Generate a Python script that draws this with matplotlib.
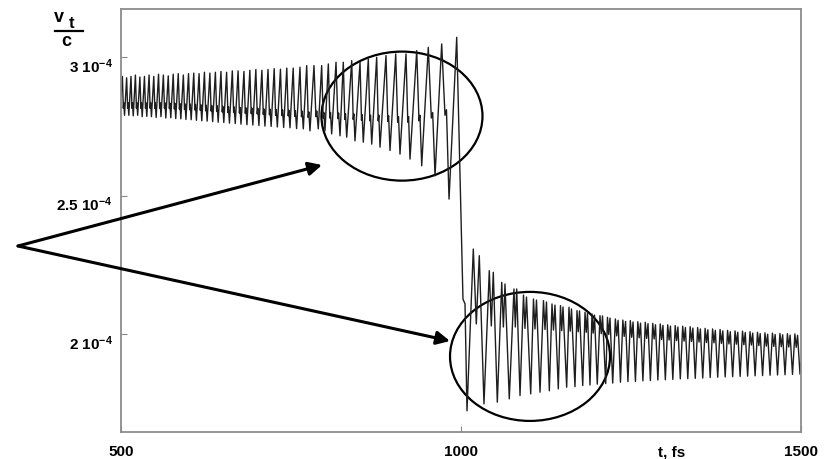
import matplotlib
matplotlib.use("Agg")
import matplotlib.pyplot as plt
from matplotlib.patches import Ellipse
from matplotlib.lines import Line2D
import matplotlib.transforms as mtransforms

plt.rcParams['font.family'] = ['Liberation Sans', 'DejaVu Sans']
plt.rcParams['mathtext.fontset'] = 'custom'
plt.rcParams['mathtext.rm'] = 'Liberation Sans:bold'
plt.rcParams['mathtext.it'] = 'Liberation Sans:bold'
plt.rcParams['mathtext.bf'] = 'Liberation Sans:bold'

# v_t/c in units of 1e-4, time in fs
# before the jump: each cycle = top, knee (dip + small bump), bottom
pre_top_t = [502, 508.3, 514.7, 521.2, 527.8, 534.5, 541.3, 548.2, 555.2, 562.3, 569.5, 576.8,
             584.2, 591.7, 599.3, 607.0, 614.8, 622.7, 630.7, 638.8, 647.0, 655.3, 663.7, 672.2,
             680.8, 689.5, 698.3, 707.2, 716.2, 725.3, 734.5, 743.8, 753.2, 763.2,
             773.1, 783.8, 795.1, 804.9, 816.2, 826.9, 839.3, 851.5, 863.7, 876.0, 889.7,
             904.0, 919.1, 934.9, 951.9, 971.6, 993.7]
pre_top_v = [2.930, 2.925, 2.930, 2.935, 2.928, 2.930, 2.935, 2.930, 2.938, 2.935, 2.932, 2.938,
             2.940, 2.935, 2.940, 2.942, 2.940, 2.945, 2.942, 2.945, 2.948, 2.945, 2.950, 2.950,
             2.948, 2.952, 2.955, 2.952, 2.955, 2.958, 2.956, 2.960, 2.960, 2.963,
             2.969, 2.969, 2.969, 2.975, 2.981, 2.981, 2.987, 2.981, 2.993, 2.999, 3.005, 3.011,
             3.011, 3.023, 3.035, 3.047, 3.071]
pre_bot_t = [505.2, 511.5, 518.0, 524.5, 531.2, 537.9, 544.8, 551.7, 558.8, 565.9, 573.2, 580.5,
             588.0, 595.5, 603.2, 610.9, 618.8, 626.7, 634.8, 642.9, 651.2, 659.5, 668.0, 676.5,
             685.2, 693.9, 702.8, 711.7, 720.8, 729.9, 739.2, 748.5, 758.2,
             768.1, 777.9, 790.1, 800.0, 809.8, 822.1, 831.9, 844.1, 856.3, 868.7, 880.9, 895.6,
             910.3, 925.0, 942.2, 961.8, 982.4]
pre_bot_v = [2.790, 2.790, 2.788, 2.790, 2.785, 2.786, 2.785, 2.782, 2.785, 2.780, 2.781, 2.778,
             2.777, 2.775, 2.774, 2.772, 2.770, 2.769, 2.767, 2.765, 2.764, 2.762, 2.760, 2.758,
             2.756, 2.755, 2.753, 2.751, 2.750, 2.748, 2.746, 2.745, 2.742,
             2.741, 2.734, 2.741, 2.734, 2.723, 2.716, 2.711, 2.698, 2.693, 2.686, 2.675, 2.663,
             2.650, 2.632, 2.608, 2.572, 2.488]
pre_dip_v = [2.815, 2.815, 2.815, 2.815, 2.815, 2.815, 2.815, 2.815, 2.815, 2.815, 2.814, 2.813,
             2.812, 2.811, 2.810, 2.809, 2.808, 2.806, 2.805, 2.804, 2.802, 2.800, 2.800, 2.798,
             2.797, 2.796, 2.795, 2.793, 2.792, 2.790, 2.789, 2.788, 2.786,
             2.785, 2.782, 2.785, 2.780, 2.780, 2.778, 2.775, 2.775, 2.772, 2.770, 2.770, 2.768,
             2.765, 2.765, 2.770, 2.780, 2.790]
pre_bump_v = [2.835, 2.835, 2.835, 2.835, 2.835, 2.835, 2.835, 2.835, 2.835, 2.835, 2.834, 2.833,
              2.832, 2.831, 2.830, 2.829, 2.828, 2.826, 2.825, 2.824, 2.822, 2.820, 2.820, 2.818,
              2.817, 2.816, 2.815, 2.813, 2.812, 2.810, 2.809, 2.808, 2.806,
              2.805, 2.802, 2.805, 2.800, 2.800, 2.798, 2.795, 2.795, 2.792, 2.790, 2.790, 2.788,
              2.785, 2.785, 2.790, 2.800, 2.810]

# the jump near 1000 fs
drop_t = [1002.9, 1005.9, 1008.8]
drop_v = [2.128, 2.110, 1.725]

# after the jump: each cycle = first top, dip, second top, trough
post_p1_t = [1018.1, 1041.6, 1059.9, 1077.9, 1091.9, 1106.6, 1121.3, 1133.8, 1146.3, 1158.8,
             1170.6, 1182.4, 1192.6, 1204.4, 1215.4, 1227, 1238, 1249, 1260, 1271, 1282, 1293,
             1304, 1315, 1326, 1337, 1348, 1359, 1370, 1381, 1392, 1403, 1414, 1425, 1436, 1447,
             1458, 1469, 1480, 1491]
post_p2_t = [1026.9, 1047.5, 1064.7, 1081.9, 1096.3, 1111.0, 1125.7, 1138.2, 1150.0, 1162.5,
             1174.3, 1186.0, 1196.3, 1208.1, 1219.1, 1231, 1242, 1253, 1264, 1275, 1286, 1297,
             1308, 1319, 1330, 1341, 1352, 1363, 1374, 1385, 1396, 1407, 1418, 1429, 1440, 1451,
             1462, 1473, 1484, 1495]
post_tr_t = [1033.8, 1053.4, 1071.0, 1086.8, 1102.5, 1116.2, 1129.9, 1143.1, 1155.4, 1167.6,
             1179.0, 1189.7, 1200.4, 1212.8, 1223.1, 1234.5, 1245.5, 1256.5, 1267.5, 1278.5,
             1289.5, 1300.5, 1311.5, 1322.5, 1333.5, 1344.5, 1355.5, 1366.5, 1377.5, 1388.5,
             1399.5, 1410.5, 1421.5, 1432.5, 1443.5, 1454.5, 1465.5, 1476.5, 1487.5, 1498.5]
post_p1_v = [2.308, 2.230, 2.188, 2.164, 2.142, 2.128, 2.122, 2.110, 2.104, 2.098, 2.086, 2.080,
             2.074, 2.068, 2.062, 2.056, 2.052, 2.050, 2.046, 2.044, 2.040, 2.038, 2.035, 2.032,
             2.030, 2.028, 2.025, 2.022, 2.020, 2.018, 2.015, 2.013, 2.012, 2.010, 2.008, 2.006,
             2.005, 2.004, 2.003, 2.002]
post_p2_v = [2.284, 2.224, 2.182, 2.164, 2.135, 2.124, 2.117, 2.106, 2.099, 2.092, 2.085, 2.077,
             2.070, 2.067, 2.059, 2.051, 2.047, 2.045, 2.041, 2.039, 2.035, 2.033, 2.030, 2.027,
             2.025, 2.023, 2.020, 2.017, 2.015, 2.013, 2.010, 2.008, 2.007, 2.005, 2.003, 2.001,
             2.000, 1.999, 1.998, 1.997]
post_dip_v = [2.038, 2.031, 2.027, 2.027, 2.022, 2.020, 2.018, 2.016, 2.014, 2.012, 2.010, 2.008,
              2.005, 2.003, 2.000, 1.995, 1.993, 1.990, 1.988, 1.986, 1.984, 1.982, 1.980, 1.978,
              1.976, 1.975, 1.973, 1.971, 1.970, 1.968, 1.966, 1.965, 1.963, 1.962, 1.960, 1.958,
              1.957, 1.956, 1.955, 1.954]
post_tr_v = [1.750, 1.756, 1.768, 1.780, 1.786, 1.792, 1.797, 1.804, 1.810, 1.812, 1.816, 1.818,
             1.821, 1.823, 1.825, 1.828, 1.830, 1.831, 1.833, 1.834, 1.836, 1.837, 1.838, 1.840,
             1.841, 1.842, 1.843, 1.845, 1.846, 1.847, 1.848, 1.849, 1.850, 1.851, 1.852, 1.853,
             1.854, 1.855, 1.856, 1.857]

start_t, start_v = 500, 2.86
end_t, end_v = 1500, 1.90

yticks = [2.0, 2.5, 3.0]
ytick_labels = [r'2 10$^{-4}$', r'2.5 10$^{-4}$', r'3 10$^{-4}$']
xticks = [500, 1000, 1500]

# build the curve from the turning points
t = [start_t]
v = [start_v]
for i in range(len(pre_top_t)):
    t.append(pre_top_t[i]); v.append(pre_top_v[i])
    if i < len(pre_bot_t):
        span = pre_bot_t[i] - pre_top_t[i]
        t.append(pre_top_t[i] + 0.45 * span); v.append(pre_dip_v[i])
        t.append(pre_top_t[i] + 0.65 * span); v.append(pre_bump_v[i])
        t.append(pre_bot_t[i]); v.append(pre_bot_v[i])
t += drop_t
v += drop_v
for i in range(len(post_p1_t)):
    t.append(post_p1_t[i]); v.append(post_p1_v[i])
    t.append(0.5 * (post_p1_t[i] + post_p2_t[i])); v.append(post_dip_v[i])
    t.append(post_p2_t[i]); v.append(post_p2_v[i])
    t.append(post_tr_t[i]); v.append(post_tr_v[i])
t.append(end_t); v.append(end_v)
v = [x * 1e-4 for x in v]

fig = plt.figure(figsize=(8.33, 4.6), dpi=100)
ax = fig.add_axes([121 / 833, 1 - 433 / 460, 680 / 833, 423 / 460])
ax.plot(t, v, color='#1e1e1e', lw=1.0)

ax.set_xlim(500, 1500)
ax.set_ylim(1.6486e-4, 3.173e-4)
ax.set_xticks(xticks)
ax.set_xticklabels([str(x) for x in xticks], fontsize=11, fontweight='bold')
ax.set_yticks([y * 1e-4 for y in yticks])
ax.set_yticklabels(ytick_labels, fontsize=11, fontweight='bold')
ax.tick_params(direction='in', length=4, color='#888888')
ax.tick_params(axis='x', pad=9)
ax.tick_params(axis='y', pad=6)
for lab in ax.get_yticklabels():
    lab.set_transform(lab.get_transform() + mtransforms.ScaledTranslation(0, -5 / 72, fig.dpi_scale_trans))
for s in ax.spines.values():
    s.set_color('#8c8c8c')
    s.set_linewidth(1.3)

ax.text(1310, -0.045, 't, fs', transform=ax.get_xaxis_transform(),
        ha='center', va='center', fontsize=11, fontweight='bold')

# axis quantity written as a fraction v_t / c
fig.text(59 / 833, 1 - 17 / 460, 'v', ha='center', va='center', fontsize=13, fontweight='bold')
fig.text(72 / 833, 1 - 23 / 460, 't', ha='center', va='center', fontsize=12, fontweight='bold')
fig.add_artist(Line2D([55 / 833, 83 / 833], [1 - 32 / 460, 1 - 32 / 460], color='black', lw=1.6))
fig.text(66 / 833, 1 - 41 / 460, 'c', ha='center', va='center', fontsize=13, fontweight='bold')

# marked regions
ax.add_patch(Ellipse((913.2, 2.787e-4), 236.8, 0.465e-4, fill=False, lw=1.6, color='black', clip_on=False))
ax.add_patch(Ellipse((1101.5, 1.921e-4), 235.3, 0.465e-4, fill=False, lw=1.6, color='black', clip_on=False))

for tip in [(322, 460 - 166), (450, 460 - 342)]:
    ax.annotate('', xy=tip, xycoords='figure pixels', xytext=(18, 460 - 247),
                textcoords='figure pixels', annotation_clip=False,
                arrowprops=dict(arrowstyle='-|>', color='black', lw=2.2, mutation_scale=20,
                                shrinkA=0, shrinkB=0))

fig.savefig('out.png', dpi=100)
